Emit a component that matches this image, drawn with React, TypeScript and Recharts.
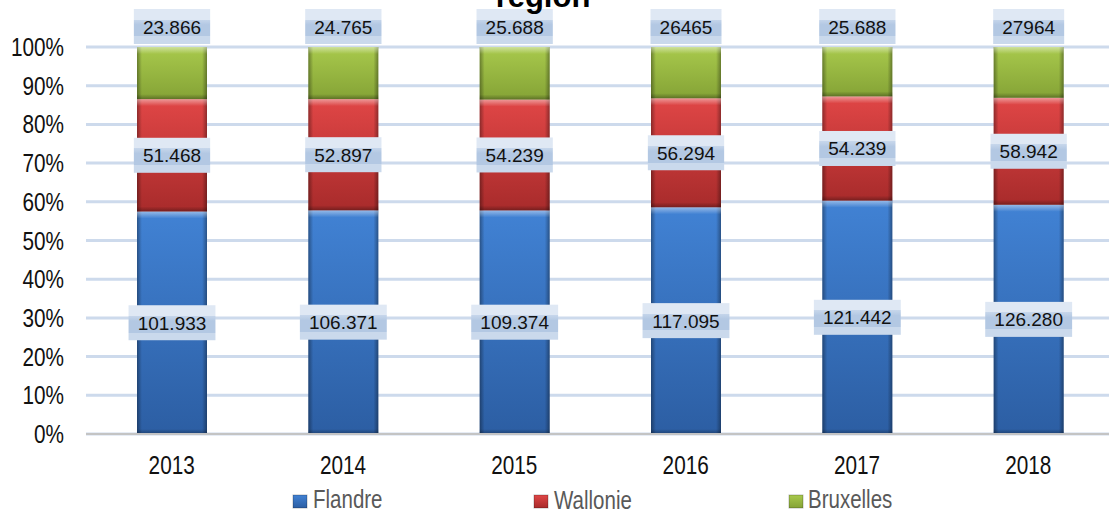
import React from "react";
import { BarChart, Bar, XAxis, YAxis, CartesianGrid, LabelList, Legend } from "recharts";

const years = ["2013", "2014", "2015", "2016", "2017", "2018"];
const flandre = [101.933, 106.371, 109.374, 117.095, 121.442, 126.28];
const wallonie = [51.468, 52.897, 54.239, 56.294, 54.239, 58.942];
const bruxelles = [23.866, 24.765, 25.688, 26.465, 25.688, 27.964];
const flandreLabels = ["101.933", "106.371", "109.374", "117.095", "121.442", "126.280"];
const wallonieLabels = ["51.468", "52.897", "54.239", "56.294", "54.239", "58.942"];
const bruxellesLabels = ["23.866", "24.765", "25.688", "26465", "25.688", "27964"];
const yTicks = [0, 0.1, 0.2, 0.3, 0.4, 0.5, 0.6, 0.7, 0.8, 0.9, 1];

const data = years.map((year, i) => ({
  year,
  flandre: flandre[i],
  wallonie: wallonie[i],
  bruxelles: bruxelles[i],
}));

const FONT = "'Liberation Sans', Arial, sans-serif";

const series = [
  { key: "flandre", name: "Flandre", top: "#4182d4", bottom: "#2c5ea3", labels: flandreLabels },
  { key: "wallonie", name: "Wallonie", top: "#e04646", bottom: "#a82b2b", labels: wallonieLabels },
  { key: "bruxelles", name: "Bruxelles", top: "#a8c94c", bottom: "#85a336", labels: bruxellesLabels },
];

const bevelShape = (key: string) => (props: any) => {
  const { x, y, width, height } = props;
  if (!height || height <= 0) return null;
  return (
    <g>
      <rect x={x} y={y} width={width} height={height} fill={`url(#grad-${key})`} />
      <rect x={x} y={y} width={width} height={height} fill="url(#edgeShade)" />
      <rect x={x} y={y} width={width} height={Math.min(7, height)} fill="url(#topHi)" />
      <rect x={x} y={y + height - Math.min(5, height)} width={width} height={Math.min(5, height)} fill="url(#bottomShade)" />
    </g>
  );
};

const textWidth = (s: string) =>
  s.split("").reduce((w, c) => w + (c === "." ? 5.3 : 10.6), 0);

const boxLabel = (labels: string[], above: boolean) => (props: any) => {
  const { x, y, width, height, index } = props;
  const text = labels[index];
  const w = textWidth(text) + 18;
  const h = 35;
  const cx = x + width / 2;
  const cy = above ? y - 3 - h / 2 : y + height / 2;
  return (
    <g>
      <rect x={cx - w / 2} y={cy - h / 2} width={w} height={h} fill="url(#labelBg)" />
      <text x={cx} y={cy + 7} textAnchor="middle" fontSize={19} fontFamily={FONT} fill="#111">
        {text}
      </text>
    </g>
  );
};

const XTick = (props: any) => {
  const { x, payload } = props;
  return (
    <text transform={`translate(${x},474) scale(0.83,1)`} textAnchor="middle" fontSize={25} fontFamily={FONT} fill="#111">
      {payload.value}
    </text>
  );
};

const YTick = (props: any) => {
  const { x, y, payload } = props;
  return (
    <text transform={`translate(${x},${y + 9}) scale(0.83,1)`} textAnchor="end" fontSize={25} fontFamily={FONT} fill="#111">
      {Math.round(payload.value * 100)}%
    </text>
  );
};

const legendPos = [
  { sq: 293, tx: 313, ty: 34 },
  { sq: 534, tx: 554, ty: 35 },
  { sq: 789, tx: 808, ty: 34 },
];

const LegendContent = () => (
  <svg width={1109} height={39} style={{ display: "block", overflow: "visible" }}>
    {series.map((s, i) => (
      <g key={s.key}>
        <rect x={legendPos[i].sq} y={21} width={14} height={13} fill={`url(#grad-${s.key})`} />
        <rect x={legendPos[i].sq} y={21} width={14} height={13} fill="none" stroke="rgba(0,0,0,0.25)" />
        <text
          transform={`translate(${legendPos[i].tx},${legendPos[i].ty}) scale(0.82,1)`}
          fontSize={25}
          fontFamily={FONT}
          fill="#595959"
        >
          {s.name}
        </text>
      </g>
    ))}
  </svg>
);

export default function App() {
  return (
    <div style={{ position: "absolute", left: 0, top: 0, width: 1109, height: 513, overflow: "hidden", background: "#fff" }}>
      <BarChart
        width={1114}
        height={513}
        data={data}
        stackOffset="expand"
        margin={{ top: 47, right: 0, bottom: 0, left: 0 }}
        barSize={70}
      >
        <defs>
          {series.map((s) => (
            <linearGradient key={s.key} id={`grad-${s.key}`} x1="0" y1="0" x2="0" y2="1">
              <stop offset="0%" stopColor={s.top} />
              <stop offset="100%" stopColor={s.bottom} />
            </linearGradient>
          ))}
          <linearGradient id="edgeShade" x1="0" y1="0" x2="1" y2="0">
            <stop offset="0%" stopColor="#000" stopOpacity={0.35} />
            <stop offset="7%" stopColor="#000" stopOpacity={0} />
            <stop offset="93%" stopColor="#000" stopOpacity={0} />
            <stop offset="100%" stopColor="#000" stopOpacity={0.35} />
          </linearGradient>
          <linearGradient id="topHi" x1="0" y1="0" x2="0" y2="1">
            <stop offset="0%" stopColor="#fff" stopOpacity={0.45} />
            <stop offset="100%" stopColor="#fff" stopOpacity={0} />
          </linearGradient>
          <linearGradient id="bottomShade" x1="0" y1="0" x2="0" y2="1">
            <stop offset="0%" stopColor="#000" stopOpacity={0} />
            <stop offset="100%" stopColor="#000" stopOpacity={0.3} />
          </linearGradient>
          <linearGradient id="labelBg" x1="0" y1="0" x2="0" y2="1">
            <stop offset="0%" stopColor="#dfe8f4" />
            <stop offset="30%" stopColor="#dfe8f4" />
            <stop offset="30%" stopColor="#c6d6eb" />
            <stop offset="45%" stopColor="#b3c8e3" />
            <stop offset="78%" stopColor="#b3c8e3" />
            <stop offset="78%" stopColor="#cad9ec" />
            <stop offset="100%" stopColor="#cad9ec" />
          </linearGradient>
        </defs>
        <CartesianGrid vertical={false} stroke="#cddaec" strokeWidth={3} />
        <XAxis
          dataKey="year"
          height={40}
          tickLine={false}
          axisLine={{ stroke: "#c4c4c4", strokeWidth: 2 }}
          tick={<XTick />}
          interval={0}
        />
        <YAxis
          width={86}
          domain={[0, 1]}
          ticks={yTicks}
          tickLine={false}
          axisLine={false}
          tickSize={0}
          tickMargin={22}
          tick={<YTick />}
          interval={0}
        />
        <Legend verticalAlign="bottom" height={39} content={<LegendContent />} />
        {series.map((s, i) => (
          <Bar
            key={s.key}
            dataKey={s.key}
            name={s.name}
            stackId="a"
            isAnimationActive={false}
            shape={bevelShape(s.key)}
          >
            <LabelList dataKey={s.key} content={boxLabel(s.labels, i === 2)} />
          </Bar>
        ))}
      </BarChart>
      <svg width={1109} height={20} style={{ position: "absolute", left: 0, top: 0 }}>
        <text x={543} y={7} textAnchor="middle" fontSize={31} fontWeight="bold" fontFamily={FONT} fill="#000">
          région
        </text>
      </svg>
    </div>
  );
}
